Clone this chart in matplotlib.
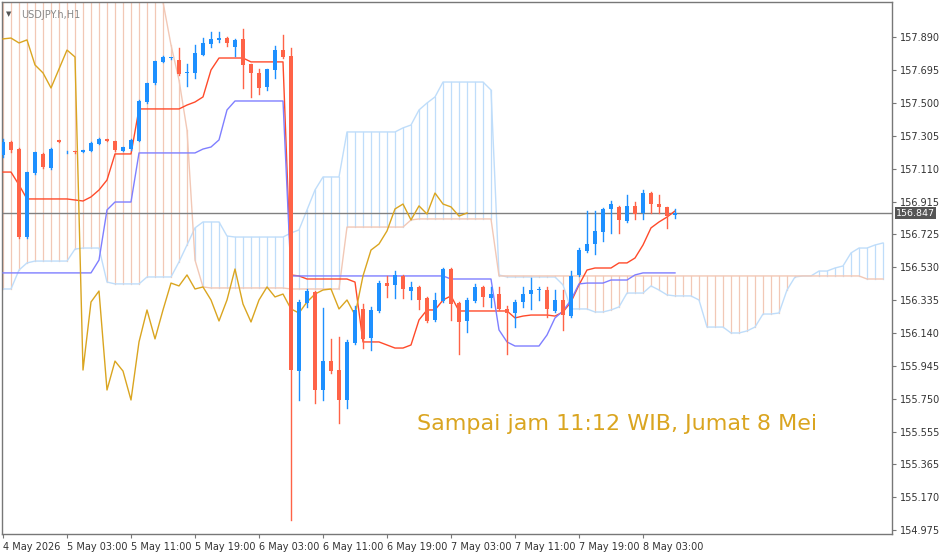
import matplotlib
matplotlib.use("Agg")
import matplotlib.pyplot as plt
import numpy as np

opens = [157.190,157.267,157.225,156.705,157.084,157.196,157.113,157.279,157.205,157.212,
         157.208,157.214,157.255,157.285,157.273,157.214,157.225,157.273,157.503,157.615,
         157.740,157.763,157.751,157.675,157.675,157.781,157.846,157.870,157.881,157.828,
         157.876,157.728,157.675,157.592,157.692,157.810,157.775,155.913,156.315,156.380,
         155.801,155.972,155.919,155.742,156.079,156.280,156.108,156.268,156.433,156.422,
         156.475,156.386,156.410,156.345,156.215,156.327,156.516,156.315,156.209,156.327,
         156.410,156.345,156.368,156.280,156.256,156.321,156.368,156.392,156.392,156.268,
         156.333,156.238,156.481,156.623,156.664,156.735,156.871,156.883,156.800,156.889,
         156.847,156.965,156.900,156.883,156.835]
closes = [157.267,157.219,156.705,157.089,157.208,157.119,157.225,157.267,157.210,157.207,
          157.219,157.261,157.285,157.273,157.219,157.237,157.279,157.509,157.615,157.745,
          157.769,157.763,157.669,157.680,157.793,157.852,157.876,157.881,157.852,157.870,
          157.722,157.675,157.586,157.698,157.810,157.769,155.919,156.321,156.386,155.801,
          155.972,155.913,155.742,156.085,156.274,156.103,156.274,156.433,156.416,156.481,
          156.398,156.410,156.333,156.209,156.333,156.516,156.309,156.203,156.333,156.410,
          156.351,156.368,156.280,156.256,156.321,156.368,156.392,156.398,156.280,156.333,
          156.244,156.475,156.628,156.664,156.741,156.871,156.900,156.806,156.889,156.841,
          156.965,156.900,156.883,156.829,156.847]
highs = [157.285,157.275,157.230,157.090,157.210,157.200,157.230,157.280,157.212,157.214,
         157.222,157.264,157.288,157.287,157.275,157.240,157.282,157.512,157.618,157.748,
         157.772,157.766,157.822,157.728,157.840,157.881,157.917,157.917,157.885,157.875,
         157.935,157.730,157.698,157.700,157.834,157.899,157.822,156.330,156.398,156.385,
         156.286,156.103,156.114,156.097,156.298,156.309,156.292,156.445,156.475,156.504,
         156.480,156.439,156.415,156.350,156.374,156.520,156.520,156.320,156.345,156.428,
         156.415,156.410,156.410,156.298,156.330,156.410,156.463,156.410,156.410,156.392,
         156.392,156.504,156.640,156.859,156.859,156.875,156.918,156.890,156.954,156.912,
         156.983,156.970,156.954,156.885,156.871]
lows = [157.180,157.210,156.700,156.700,157.080,157.115,157.110,157.265,157.203,157.204,
        157.205,157.211,157.252,157.270,157.216,157.211,157.222,157.270,157.500,157.612,
        157.737,157.760,157.665,157.598,157.645,157.778,157.828,157.858,157.834,157.775,
        157.586,157.533,157.550,157.574,157.645,157.765,155.033,155.742,156.292,155.724,
        155.742,155.902,155.606,155.695,156.070,156.049,156.037,156.260,156.351,156.345,
        156.345,156.339,156.280,156.200,156.210,156.320,156.215,156.014,156.144,156.320,
        156.298,156.292,156.275,156.014,156.173,156.292,156.280,156.333,156.233,156.260,
        156.156,156.230,156.475,156.615,156.605,156.682,156.729,156.729,156.795,156.812,
        156.812,156.847,156.847,156.759,156.818]

tenkan = [157.089]*2 + [157.013] + [156.930]*6 + [156.924, 156.918, 156.942, 156.983, 157.042] \
    + [157.196]*3 + [157.462]*6 + [157.485, 157.503, 157.533, 157.692] + [157.763]*4 + [157.740]*5 \
    + [156.481, 156.475] + [156.457]*6 + [156.439] + [156.085]*3 + [156.067] + [156.049]*2 \
    + [156.067, 156.215] + [156.274]*2 + [156.333, 156.357] + [156.268]*7 + [156.227, 156.238] \
    + [156.244]*3 + [156.238, 156.262, 156.321, 156.422, 156.510] + [156.522]*3 + [156.552]*2 \
    + [156.581, 156.658, 156.759, 156.794, 156.823, 156.859]
kijun = [156.493]*12 + [156.569, 156.865] + [156.912]*3 + [157.202]*8 + [157.225, 157.237, 157.279, 157.456] \
    + [157.509]*7 + [156.475]*20 + [156.457]*6 + [156.156, 156.085] + [156.061]*4 \
    + [156.126, 156.227, 156.268, 156.333, 156.428] + [156.433]*3 + [156.451]*3 + [156.481] + [156.493]*5
span_a = [156.398]*2 + [156.510, 156.552] + [156.563]*5 + [156.634] + [156.640]*3 + [156.439] \
    + [156.428]*4 + [156.469]*4 + [156.558, 156.658, 156.759] + [156.794]*3 + [156.711] + [156.705]*7 \
    + [156.729, 156.747, 156.865, 156.983] + [157.060]*3 + [157.326]*7 + [157.350, 157.367, 157.456, 157.497, 157.533] \
    + [157.621]*6 + [157.574, 156.481] + [156.469]*7 + [156.422] + [156.280]*3 + [156.262]*2 + [156.274, 156.292] \
    + [156.374]*3 + [156.416, 156.392, 156.363] + [156.357]*3 + [156.333] + [156.173]*3 + [156.138]*2 \
    + [156.150, 156.173] + [156.250]*2 + [156.256, 156.392, 156.469] + [156.475]*2 + [156.504]*2 \
    + [156.522, 156.534, 156.611] + [156.640]*2 + [156.658, 156.670]
span_b = [158.35]*20 + [158.094, 157.840, 157.633, 157.338, 156.569, 156.410] + [156.404]*10 + [156.398]*7 \
    + [156.764]*8 + [156.806] + [156.812]*10 + [156.475]*46 + [156.457]*3

xlabels = ["4 May 2026", "5 May 03:00", "5 May 11:00", "5 May 19:00", "6 May 03:00", "6 May 11:00",
           "6 May 19:00", "7 May 03:00", "7 May 11:00", "7 May 19:00", "8 May 03:00"]
yticks = [157.890, 157.695, 157.500, 157.305, 157.110, 156.915, 156.725, 156.530, 156.335,
          156.140, 155.945, 155.750, 155.555, 155.365, 155.170, 154.975]
last_price = 156.847
shift = 26

RED = "#FF6347"; BLUE = "#1E90FF"
A_COL = "#BFDDFA"; B_COL = "#F2C8B6"

fig = plt.figure(figsize=(9.39, 5.55), dpi=100)
W, H = 939, 555
ax = fig.add_axes([2/W, (H-534)/H, 890/W, 532/H])
YMIN, YMAX = 154.950, 158.094
ax.set_xlim(-0.125, 111.125)
ax.set_ylim(YMIN, YMAX)

idx = np.arange(len(span_a))
a = np.array(span_a); b = np.array(span_b)
for i in idx:
    col = B_COL if b[i] > a[i] else A_COL
    ax.plot([i, i], [a[i], b[i]], color=col, lw=0.9, zorder=1)
ax.plot(idx, a, color=A_COL, lw=1.0, zorder=2)
ax.plot(idx, b, color=B_COL, lw=1.0, zorder=2)

ax.axhline(last_price, color="#808080", lw=1.0, zorder=2)

n = len(closes)
ci = np.arange(n)
ax.plot(ci, tenkan, color="#FF4A2A", lw=1.0, zorder=3)
ax.plot(ci, kijun, color="#7F7FFF", lw=1.0, zorder=3)
ax.plot(ci[shift:] - shift, closes[shift:], color="#DAA520", lw=1.0, zorder=3)

for i in range(n):
    o, c, h, l = opens[i], closes[i], highs[i], lows[i]
    col = BLUE if c >= o else RED
    ax.plot([i, i], [l, h], color=col, lw=1.0, zorder=4)
    lo, hi = min(o, c), max(o, c)
    hgt = max(hi - lo, 0.004)
    ax.add_patch(plt.Rectangle((i - 0.3, lo), 0.6, hgt, color=col, lw=0, zorder=5))

ax.yaxis.tick_right()
ax.set_yticks(yticks)
ax.set_yticklabels([f"{v:.3f}" for v in yticks], fontsize=7, color="#333333")
ax.tick_params(axis='y', length=3, color="#777777", pad=3)
ax.set_xticks(np.arange(0, 81, 8))
ax.set_xticklabels(xlabels, fontsize=7, color="#333333", ha="left")
ax.tick_params(axis='x', length=3, color="#777777", pad=3)
for s in ax.spines.values():
    s.set_color("#777777"); s.set_linewidth(1.0)

ypos = (H - 534 + (last_price - YMIN) / (YMAX - YMIN) * 532) / H
fig.text(896/W, ypos, f"{last_price:.3f}", fontsize=6.8, color="white", va="center", ha="left",
         bbox=dict(boxstyle="square,pad=0.15", fc="#555555", ec="none"), zorder=10)

ax.text(0.022, 0.985, "USDJPY.h,H1", transform=ax.transAxes, fontsize=7, color="#888888",
        va="top", ha="left")
ax.text(0.005, 0.983, "▼", transform=ax.transAxes, fontsize=5, color="#555555", va="top", ha="left")

ax.text(0.466, 0.207, "Sampai jam 11:12 WIB, Jumat 8 Mei", transform=ax.transAxes,
        fontsize=16, color="#DAA520", va="center", ha="left")

fig.savefig("out.png", dpi=100)
